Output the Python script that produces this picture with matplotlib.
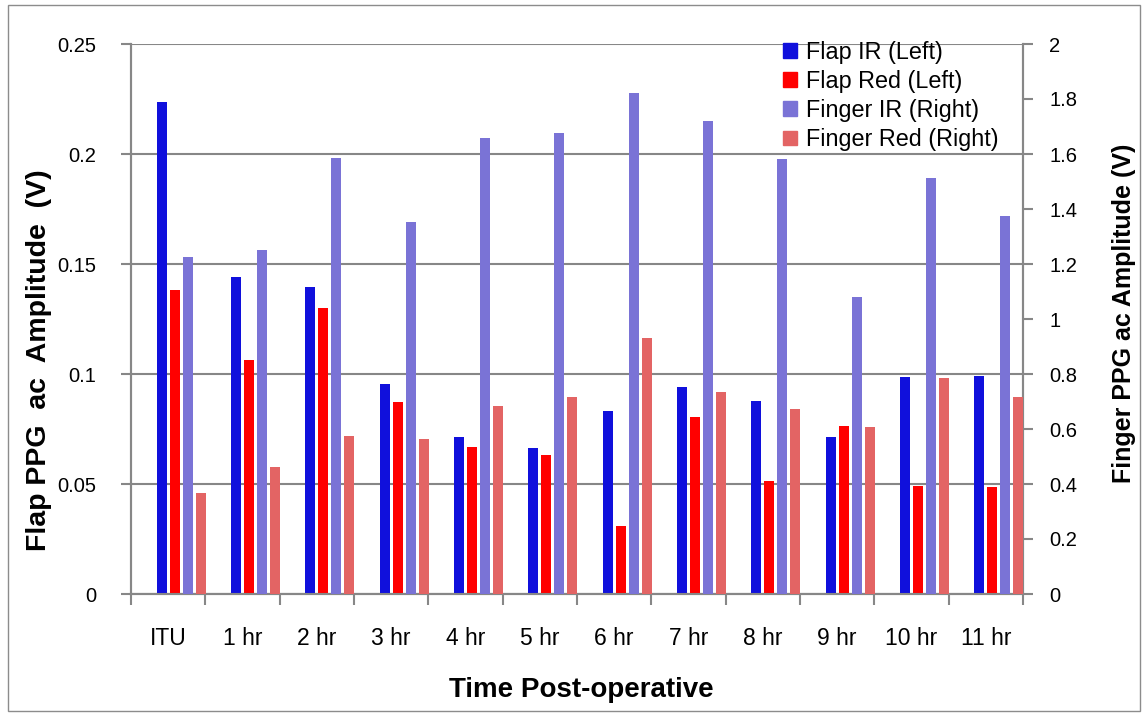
import matplotlib
matplotlib.use("Agg")
import matplotlib.pyplot as plt
import numpy as np
from matplotlib.patches import Rectangle, Patch

plt.rcParams['font.family'] = ['Liberation Sans', 'DejaVu Sans']

categories = ["ITU", "1 hr", "2 hr", "3 hr", "4 hr", "5 hr", "6 hr", "7 hr", "8 hr", "9 hr", "10 hr", "11 hr"]
flap_ir = [0.2236, 0.1439, 0.1394, 0.0953, 0.0714, 0.0664, 0.0832, 0.0942, 0.0879, 0.0714, 0.0986, 0.0990]
flap_red = [0.1380, 0.1065, 0.1300, 0.0873, 0.0668, 0.0632, 0.0310, 0.0806, 0.0514, 0.0765, 0.0492, 0.0488]
finger_ir = [1.224, 1.252, 1.585, 1.352, 1.657, 1.675, 1.823, 1.720, 1.581, 1.080, 1.513, 1.373]
finger_red = [0.367, 0.463, 0.575, 0.564, 0.684, 0.716, 0.931, 0.736, 0.672, 0.606, 0.787, 0.716]
left_ticks = [0, 0.05, 0.1, 0.15, 0.2, 0.25]
left_ticklabels = ["0", "0.05", "0.1", "0.15", "0.2", "0.25"]
right_ticks = [0, 0.2, 0.4, 0.6, 0.8, 1, 1.2, 1.4, 1.6, 1.8, 2]
right_ticklabels = ["0", "0.2", "0.4", "0.6", "0.8", "1", "1.2", "1.4", "1.6", "1.8", "2"]
series_names = ["Flap IR (Left)", "Flap Red (Left)", "Finger IR (Right)", "Finger Red (Right)"]

c_flap_ir = "#1010DC"
c_flap_red = "#FF0000"
c_finger_ir = "#7A73D6"
c_finger_red = "#E36464"
grid_c = "#878787"

fig = plt.figure(figsize=(11.45, 7.18), dpi=100)
fig.patches.append(Rectangle((8/1145, 1-711/718), (1140-8)/1145, (711-5)/718,
                             transform=fig.transFigure, fill=False, edgecolor="#8c8c8c", lw=1.0))

ax = fig.add_axes([131/1145, 1-594/718, (1023-131)/1145, (594-44)/718])
ax2 = ax.twinx()

x = np.arange(len(categories))
w = 0.135
ax.bar(x - 0.0875, flap_ir, w, color=c_flap_ir, zorder=3)
ax.bar(x + 0.0875, flap_red, w, color=c_flap_red, zorder=3)
ax2.bar(x + 0.2625, finger_ir, w, color=c_finger_ir, zorder=3)
ax2.bar(x + 0.4375, finger_red, w, color=c_finger_red, zorder=3)

ax.set_xlim(-0.5, len(categories) - 0.5)
ax.set_ylim(0, 0.25)
ax2.set_ylim(0, 2)

ax.set_yticks(left_ticks)
ax.set_yticklabels(left_ticklabels)
ax2.set_yticks(right_ticks)
ax2.set_yticklabels(right_ticklabels)

ax.set_xticks(x)
ax.set_xticklabels(categories)
ax.set_xticks(np.arange(-0.5, len(categories)), minor=True)
ax.tick_params(axis='x', which='major', length=0, pad=24, labelsize=16.5)
ax.tick_params(axis='x', which='minor', length=8, width=1.5, color=grid_c)
ax.tick_params(axis='y', length=7, width=1.5, color=grid_c, pad=18, labelsize=14.5)
ax2.tick_params(axis='y', length=7, width=1.5, color=grid_c, pad=12, labelsize=14.5)

ax.yaxis.grid(True, color=grid_c, lw=1.5, zorder=0)
ax.set_axisbelow(True)
for a in (ax, ax2):
    a.spines['top'].set_visible(False)
    for s in ('left', 'right', 'bottom'):
        a.spines[s].set_color(grid_c)
        a.spines[s].set_linewidth(1.5)

fig.text(39/1145, 1-360/718, "Flap PPG  ac  Amplitude  (V)", fontsize=20.5, fontweight='bold',
         rotation=90, ha='center', va='center')
fig.text(1124/1145, 1-313/718, "Finger PPG ac Amplitude (V)", fontsize=18, fontweight='bold',
         rotation=90, ha='center', va='center')
fig.text(581/1145, 1-697/718, "Time Post-operative", fontsize=20, fontweight='bold',
         ha='center', va='baseline')

handles = [Patch(color=c) for c in (c_flap_ir, c_flap_red, c_finger_ir, c_finger_red)]
fig.legend(handles, series_names, loc='upper left', bbox_to_anchor=(783/1145, 1-41/718),
           frameon=False, fontsize=16.8, handlelength=0.6, handleheight=0.6,
           handletextpad=0.4, labelspacing=0.26, borderpad=0, borderaxespad=0)

fig.savefig("out.png", dpi=100)
